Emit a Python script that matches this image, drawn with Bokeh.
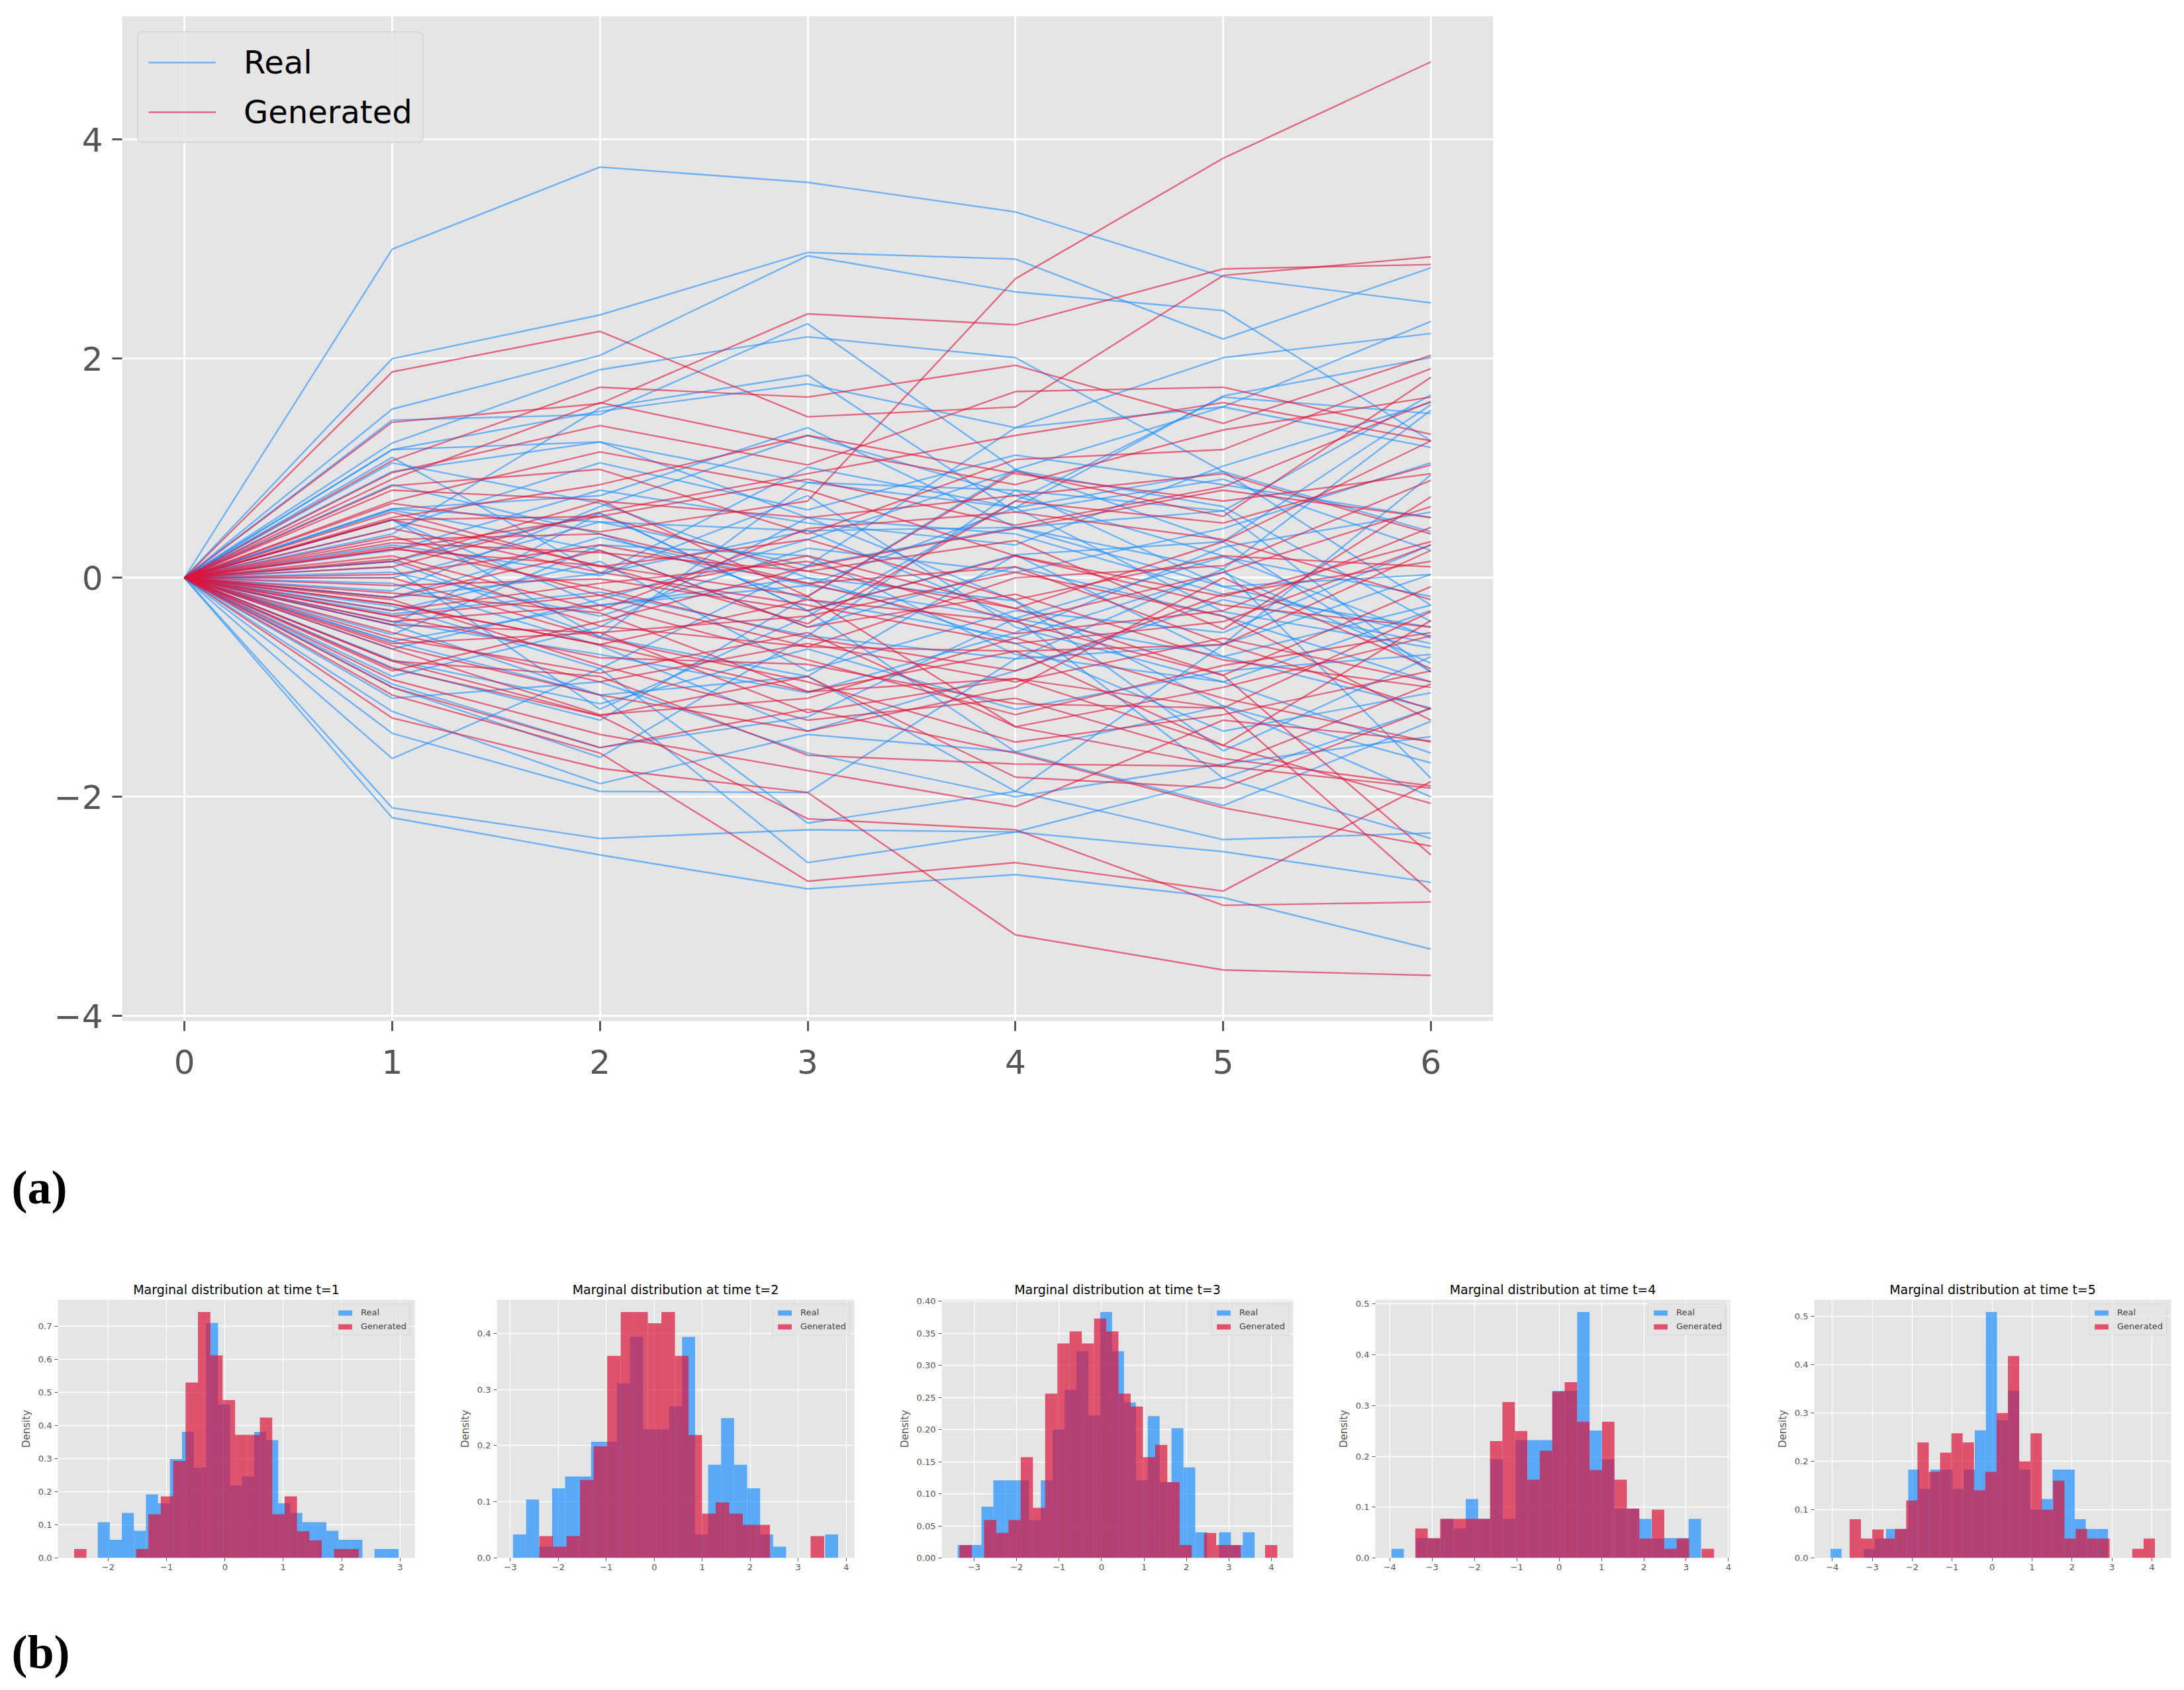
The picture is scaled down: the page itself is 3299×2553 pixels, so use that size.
import numpy as np
from bokeh.plotting import figure
from bokeh.models import (Range1d, FixedTicker, CustomJSTickFormatter, Legend,
                          LegendItem, ColumnDataSource)
from bokeh.layouts import column, row
from bokeh.embed import file_html
from bokeh.resources import INLINE
from bokeh.core.properties import value

# ---------------- data: sample paths (panel a) ----------------
time_steps = [0, 1, 2, 3, 4, 5, 6]

real_paths = [
    [0, 3.00, 3.75, 3.61, 3.34, 2.75, 2.51],
    [0, 2.00, 2.40, 2.97, 2.91, 2.18, 2.83],
    [0, 1.54, 2.03, 2.94, 2.61, 2.44, 1.25],
    [0, 1.44, 1.49, 2.32, 0.99, 1.56, 2.34],
    [0, 1.23, 1.90, 2.20, 2.01, 0.97, 0.42],
    [0, 1.17, 1.52, 1.77, 1.37, 2.01, 2.23],
    [0, 1.10, 0.04, 1.01, 0.64, 1.66, 2.01],
    [0, 0.97, 1.24, 0.55, -0.21, -1.17, -1.69],
    [0, 0.63, 0.75, 1.37, 0.46, -0.08, -0.53],
    [0, 0.53, -0.54, 0.87, 0.80, 0.61, 1.67],
    [0, 0.15, 0.59, -0.30, 0.21, 0.33, 1.58],
    [0, 0.00, 0.51, 0.43, -0.37, 0.19, -0.17],
    [0, -0.18, 0.37, -0.07, 0.64, -0.31, -0.64],
    [0, -0.26, -0.83, 0.11, 0.46, 0.08, 1.53],
    [0, -0.33, -0.13, -0.53, -0.74, -0.61, 0.94],
    [0, -0.43, -1.07, -0.90, 0.21, -0.72, -0.25],
    [0, -0.58, -0.25, 0.00, -0.21, -1.58, -0.72],
    [0, -0.82, -1.30, -0.17, 0.99, 0.33, -0.86],
    [0, -0.97, -1.55, -1.27, -0.37, -1.83, -1.19],
    [0, -1.00, -1.64, -0.53, 0.80, -0.08, 0.03],
    [0, -1.22, -1.88, -1.43, -1.59, -2.08, -1.31],
    [0, -1.42, -1.95, -1.96, -0.74, 0.08, -1.83],
    [0, -1.65, -0.83, -2.24, -1.95, -2.39, -2.33],
    [0, -2.10, -2.38, -2.30, -2.32, -2.50, -2.78],
    [0, -2.19, -2.53, -2.84, -2.71, -2.92, -3.39],
    [0, 0.63, 0.51, 0.11, 1.37, 1.56, 1.19],
    [0, -0.43, 0.59, -0.30, -1.59, -1.17, -2.00],
    [0, 0.15, -0.54, -0.90, -1.95, -0.61, 0.03],
    [0, -0.58, -1.07, -2.60, -2.32, -1.83, -2.38],
    [0, 1.17, 1.24, 0.87, 0.64, 0.97, -0.25],
    [0, -0.18, 0.04, 0.43, 0.46, 0.61, -0.86],
    [0, 0.53, -0.25, -0.07, -0.37, -0.72, -1.19],
    [0, 0.45, 1.05, 0.62, 1.12, 0.85, 0.55],
    [0, 0.30, 0.02, 0.75, -0.45, -0.95, -0.30],
    [0, 0.05, -0.35, 0.27, 0.05, 0.45, 1.05],
    [0, -0.12, 0.65, 1.30, 0.75, 0.20, -0.55],
    [0, -0.40, -0.70, -1.05, -0.50, 0.28, 0.60],
    [0, -0.65, -0.20, 0.35, 0.98, 0.65, -0.40],
    [0, -0.75, -1.15, -0.65, -1.20, -0.85, -0.70],
    [0, 0.62, 0.25, -0.45, 0.10, -0.35, -0.95],
    [0, 0.25, 0.80, 0.50, 0.30, 1.02, 1.60],
    [0, -0.30, 0.15, -0.85, -0.30, -0.50, 0.30],
    [0, -0.90, -0.45, 0.55, 0.40, -0.15, -0.45],
    [0, 1.05, 0.68, 0.00, -0.60, -1.40, -1.05],
    [0, -0.05, -0.62, -1.40, -0.85, -0.20, -0.60],
    [0, 0.40, 1.55, 1.85, 0.60, 0.90, 0.25],
    [0, -1.10, -0.95, -1.60, -2.00, -1.70, -1.45],
    [0, 0.10, -1.20, -0.35, 0.70, 1.65, 1.50],
    [0, -0.52, 0.30, 0.20, -0.70, -0.95, -1.60],
    [0, 0.85, 0.40, -0.20, -0.55, 0.05, -0.78],
]

generated_paths = [
    [0, 0.68, 0.42, 0.70, 2.73, 3.83, 4.71],
    [0, 1.88, 2.25, 1.47, 1.56, 2.76, 2.93],
    [0, 1.42, 1.59, 2.41, 2.31, 2.82, 2.86],
    [0, 1.07, 1.74, 1.65, 1.94, 1.41, 2.03],
    [0, 0.96, 1.39, 1.03, 1.70, 1.74, 1.31],
    [0, 0.84, 0.99, 0.40, 1.08, 1.17, 1.91],
    [0, 0.80, 0.71, -0.17, 0.97, 0.56, 1.83],
    [0, 0.53, 0.56, 0.90, 0.48, 0.83, 1.61],
    [0, 0.38, -0.16, 0.20, -0.28, 0.33, 1.25],
    [0, 0.32, 0.23, 0.06, 0.34, -0.47, 0.74],
    [0, 0.26, 0.11, -0.42, 0.70, 0.50, 1.03],
    [0, 0.17, -0.44, -0.63, 0.00, 0.11, 0.89],
    [0, 0.03, 0.30, -0.05, -0.51, -0.30, 0.46],
    [0, -0.07, -0.01, -0.30, 0.20, -0.17, 0.33],
    [0, -0.14, -0.32, -1.04, -0.67, -0.61, 0.25],
    [0, -0.24, -0.61, -0.20, -0.40, -0.89, -0.08],
    [0, -0.35, -0.73, -0.79, -1.15, -1.19, -0.31],
    [0, -0.43, -0.50, -1.23, -0.92, -1.53, -0.39],
    [0, -0.55, -0.87, -0.50, -1.36, -1.00, -0.53],
    [0, -0.62, -1.07, -1.40, -1.00, 0.00, -0.83],
    [0, -0.76, -0.90, -1.62, -1.70, -1.72, -0.97],
    [0, -0.83, -1.26, -0.90, -1.82, -1.92, -1.19],
    [0, -0.93, -1.43, -1.76, -2.09, -1.30, -1.49],
    [0, -1.07, -1.60, -2.77, -2.60, -2.86, -1.86],
    [0, -1.28, -1.74, -1.96, -3.26, -3.58, -3.63],
    [0, -0.76, -1.26, -2.20, -2.30, -2.99, -2.96],
    [0, 0.26, 0.56, 0.06, -0.28, -0.89, -2.53],
    [0, -0.35, -0.16, -0.63, -0.67, -1.53, -2.06],
    [0, 0.53, 0.11, -0.17, -1.36, -1.72, -1.92],
    [0, -0.24, -0.61, -1.04, -0.92, -1.19, -2.87],
    [0, 0.55, 0.85, 1.30, 0.95, 0.70, 0.95],
    [0, 0.20, -0.30, 0.45, 0.60, 0.35, -0.20],
    [0, -0.18, 0.25, -0.45, -0.15, -0.75, -1.00],
    [0, 0.45, 0.05, -0.25, -0.60, -0.40, 0.30],
    [0, -0.50, -0.95, -0.60, -0.95, -0.55, -0.95],
    [0, 0.10, 0.60, 0.95, 1.30, 1.60, 1.25],
    [0, -0.30, -0.05, 0.15, -0.40, 0.05, 0.65],
    [0, 0.70, 1.15, 0.80, 0.20, -0.25, -0.45],
    [0, -0.65, -1.25, -1.10, -0.55, -1.10, -1.50],
    [0, 0.00, -0.55, -0.95, -1.50, -1.25, -0.85],
    [0, -0.85, -0.40, 0.10, 0.45, 0.80, 0.55],
    [0, 0.35, 0.40, -0.05, 0.10, -0.60, -1.20],
    [0, -0.20, -0.80, -1.30, -1.10, -1.65, -1.90],
    [0, 0.60, 0.10, 0.35, -0.20, 0.20, 0.10],
    [0, -1.00, -1.55, -1.20, -1.60, -2.10, -2.45],
    [0, 0.90, 1.60, 1.20, 0.85, 1.35, 1.65],
    [0, -0.40, -0.25, -0.75, -1.25, -0.80, -0.50],
    [0, 0.15, 0.70, 0.55, 0.75, 0.95, 0.40],
    [0, -0.60, -0.50, -0.35, 0.05, -0.35, -1.30],
    [0, 0.28, -0.10, -0.55, -0.85, -0.15, 0.15],
]

# ---------------- data: marginal histograms (panel b) ----------------
# (first bin left edge, last bin right edge) and density per bin
real_t1_span = (-2.178, 2.974)
real_t1_density = [0.108, 0.055, 0.136, 0.082, 0.192, 0.165, 0.299, 0.381, 0.273, 0.710,
                   0.464, 0.219, 0.246, 0.381, 0.356, 0.165, 0.136, 0.108, 0.108, 0.082,
                   0.055, 0.055, 0.0, 0.027, 0.027]
gen_t1_span = (-2.583, 2.295)
gen_t1_density = [0.027, 0, 0, 0, 0, 0.027, 0.132, 0.186, 0.293, 0.530, 0.743, 0.612,
                  0.477, 0.372, 0.372, 0.424, 0.132, 0.186, 0.081, 0.053, 0, 0.027, 0.027]

real_t2_span = (-2.942, 3.831)
real_t2_density = [0.042, 0.104, 0.020, 0.124, 0.145, 0.145, 0.207, 0.207, 0.311, 0.394,
                   0.229, 0.229, 0.270, 0.394, 0.042, 0.166, 0.249, 0.166, 0.124, 0.042,
                   0.020, 0, 0, 0, 0.042]
gen_t2_span = (-2.395, 3.541)
gen_t2_density = [0.039, 0.020, 0.039, 0.139, 0.199, 0.360, 0.438, 0.438, 0.418, 0.438,
                  0.360, 0.219, 0.079, 0.099, 0.079, 0.059, 0.059, 0, 0, 0, 0.039]

real_t3_span = (-3.388, 3.607)
real_t3_density = [0.020, 0.020, 0.080, 0.121, 0.121, 0.121, 0.059, 0.121, 0.200, 0.262,
                   0.322, 0.222, 0.383, 0.322, 0.242, 0.121, 0.221, 0.118, 0.202, 0.141,
                   0.040, 0, 0.040, 0.020, 0.040]
gen_t3_span = (-3.342, 4.140)
gen_t3_density = [0.020, 0, 0.059, 0.039, 0.059, 0.157, 0.078, 0.256, 0.334, 0.353, 0.334,
                  0.373, 0.353, 0.256, 0.236, 0.157, 0.176, 0.118, 0.020, 0, 0.039, 0.020,
                  0.020, 0, 0, 0.020]

real_t4_span = (-3.959, 3.351)
real_t4_density = [0.018, 0, 0.039, 0.038, 0.077, 0.058, 0.116, 0.077, 0.194, 0.077,
                   0.232, 0.232, 0.232, 0.329, 0.329, 0.484, 0.251, 0.194, 0.097, 0.097,
                   0.077, 0.038, 0.039, 0.039, 0.077]
gen_t4_span = (-3.397, 3.659)
gen_t4_density = [0.058, 0.039, 0.077, 0.077, 0.077, 0.077, 0.230, 0.307, 0.250, 0.154,
                  0.211, 0.327, 0.346, 0.268, 0.173, 0.268, 0.154, 0.097, 0.038, 0.095,
                  0.018, 0.038, 0, 0.018]

real_t5_span = (-4.046, 2.901)
real_t5_density = [0.019, 0, 0, 0.019, 0.040, 0.060, 0.060, 0.183, 0.143, 0.183, 0.183,
                   0.143, 0.183, 0.264, 0.509, 0.285, 0.346, 0.183, 0.100, 0.122, 0.183,
                   0.183, 0.080, 0.060, 0.060]
gen_t5_span = (-3.567, 4.074)
gen_t5_density = [0.080, 0.040, 0.059, 0.040, 0.060, 0.119, 0.239, 0.178, 0.218, 0.258,
                  0.239, 0.140, 0.178, 0.300, 0.418, 0.200, 0.258, 0.100, 0.160, 0.040,
                  0.060, 0.040, 0.040, 0, 0, 0.019, 0.040]

hist_x_ticks = [[-2, -1, 0, 1, 2, 3], [-3, -2, -1, 0, 1, 2, 3, 4], [-3, -2, -1, 0, 1, 2, 3, 4],
                [-4, -3, -2, -1, 0, 1, 2, 3, 4], [-4, -3, -2, -1, 0, 1, 2, 3, 4]]
hist_y_ticks = [[0.0, 0.1, 0.2, 0.3, 0.4, 0.5, 0.6, 0.7], [0.0, 0.1, 0.2, 0.3, 0.4],
                [0.0, 0.05, 0.10, 0.15, 0.20, 0.25, 0.30, 0.35, 0.40],
                [0.0, 0.1, 0.2, 0.3, 0.4, 0.5], [0.0, 0.1, 0.2, 0.3, 0.4, 0.5]]
hist_y_decimals = [1, 1, 2, 1, 1]

# ---------------- style ----------------
BLUE = "#1E90FF"
RED = "#DC143C"
BG = "#E5E5E5"
TICK_GREY = "#555555"
FONT = "DejaVu Sans"

minus_fmt = """
var s = Math.abs(tick).toFixed(dec);
return (tick < -1e-9 ? '\u2212' : '') + s;
"""


def style_axes(p, tick_size, tick_out, tick_w, standoff):
    p.background_fill_color = BG
    p.border_fill_color = "white"
    p.outline_line_color = None
    p.grid.grid_line_color = "white"
    for ax in (p.xaxis, p.yaxis):
        ax.axis_line_color = None
        ax.major_tick_line_color = TICK_GREY
        ax.major_tick_line_width = tick_w
        ax.major_tick_out = tick_out
        ax.major_tick_in = 0
        ax.minor_tick_line_color = None
        ax.major_label_text_font_size = tick_size
        ax.major_label_text_color = TICK_GREY
        ax.major_label_text_font = FONT
        ax.major_label_standoff = standoff


# ---------------- panel (a): paths ----------------
all_vals = [v for path in real_paths + generated_paths for v in path]
y_lo, y_hi = min(all_vals), max(all_vals)
y_pad = 0.05 * (y_hi - y_lo)
x_pad = 0.05 * (max(time_steps) - min(time_steps))

main = figure(width=2267, height=1700,
              x_range=Range1d(min(time_steps) - x_pad, max(time_steps) + x_pad),
              y_range=Range1d(y_lo - y_pad, y_hi + y_pad),
              output_backend="svg", toolbar_location=None,
              min_border_left=184, min_border_right=12, min_border_top=24,
              min_border_bottom=158)
style_axes(main, "50px", 15, 3, 14)
main.xaxis.major_label_standoff = 28
main.grid.grid_line_width = 3
main.xaxis.ticker = FixedTicker(ticks=time_steps)
main.yaxis.ticker = FixedTicker(ticks=[-4, -2, 0, 2, 4])
main.xaxis.formatter = CustomJSTickFormatter(code=minus_fmt, args=dict(dec=0))
main.yaxis.formatter = CustomJSTickFormatter(code=minus_fmt, args=dict(dec=0))

r_real = main.multi_line(xs=[time_steps] * len(real_paths), ys=real_paths,
                         line_color=BLUE, line_alpha=0.6, line_width=2.4)
r_gen = main.multi_line(xs=[time_steps] * len(generated_paths), ys=generated_paths,
                        line_color=RED, line_alpha=0.6, line_width=2.4)

leg = Legend(items=[LegendItem(label="Real", renderers=[r_real]),
                    LegendItem(label="Generated", renderers=[r_gen])],
             location="top_left")
leg.margin = 23
leg.padding = 15
leg.spacing = 15
leg.glyph_width = 102
leg.glyph_height = 60
leg.label_height = 60
leg.label_standoff = 42
leg.label_text_font_size = "48px"
leg.label_text_font = FONT
leg.label_text_color = "black"
leg.border_line_color = "#CCCCCC"
leg.border_line_width = 2
leg.background_fill_color = BG
leg.background_fill_alpha = 0.8
if "border_radius" in Legend.properties():
    leg.border_radius = 8
main.add_layout(leg)


# ---------------- panel labels ----------------
def label_fig(txt, w, h, y_from_top):
    p = figure(width=w, height=h, x_range=Range1d(0, w), y_range=Range1d(0, h),
               output_backend="svg", toolbar_location=None, min_border=0,
               min_border_left=0, min_border_right=0, min_border_top=0,
               min_border_bottom=0, x_axis_type=None, y_axis_type=None)
    p.outline_line_color = None
    p.background_fill_color = "white"
    p.border_fill_color = "white"
    p.text(x=[17], y=[h - y_from_top], text=[txt], text_font=value("Liberation Serif"),
           text_font_style="bold", text_font_size="72px", text_baseline="middle",
           text_align="left", text_color="black")
    return p


label_a = label_fig("(a)", 300, 200, 93)
label_b = label_fig("(b)", 300, 120, 75)


# ---------------- panel (b): histograms ----------------
def hist_fig(t, real_span, real_d, gen_span, gen_d, xticks, yticks, ydec,
             width, left, right):
    lo = min(real_span[0], gen_span[0])
    hi = max(real_span[1], gen_span[1])
    pad = 0.05 * (hi - lo)
    ytop = 1.05 * max(max(real_d), max(gen_d))
    p = figure(width=width, height=520, x_range=Range1d(lo - pad, hi + pad),
               y_range=Range1d(0, ytop), output_backend="svg", toolbar_location=None,
               min_border_left=left, min_border_right=right, min_border_top=63,
               min_border_bottom=67)
    style_axes(p, "13px", 5, 1, 4)
    p.grid.grid_line_width = 1.3
    p.xaxis.ticker = FixedTicker(ticks=xticks)
    p.yaxis.ticker = FixedTicker(ticks=yticks)
    p.xaxis.formatter = CustomJSTickFormatter(code=minus_fmt, args=dict(dec=0))
    p.yaxis.formatter = CustomJSTickFormatter(code=minus_fmt, args=dict(dec=ydec))
    p.yaxis.axis_label = "Density"
    p.yaxis.axis_label_text_font_size = "15px"
    p.yaxis.axis_label_text_font_style = "normal"
    p.yaxis.axis_label_text_color = TICK_GREY
    p.yaxis.axis_label_text_font = FONT
    p.yaxis.axis_label_standoff = 6
    p.title.text = f"Marginal distribution at time t={t}"
    p.title.align = "center"
    p.title.text_font_size = "19px"
    p.title.text_font_style = "normal"
    p.title.text_font = FONT
    p.title.text_color = "black"

    rends = []
    for span, dens, color in ((real_span, real_d, BLUE), (gen_span, gen_d, RED)):
        edges = np.linspace(span[0], span[1], len(dens) + 1)
        src = ColumnDataSource(dict(left=edges[:-1], right=edges[1:], top=dens,
                                    bottom=[0.0] * len(dens)))
        rends.append(p.quad(left="left", right="right", top="top", bottom="bottom",
                            source=src, fill_color=color, fill_alpha=0.7,
                            line_color=None))
    lg = Legend(items=[LegendItem(label="Real", renderers=[rends[0]]),
                       LegendItem(label="Generated", renderers=[rends[1]])],
                location="top_right")
    lg.margin = 6
    lg.padding = 5
    lg.spacing = 6
    lg.glyph_width = 26
    lg.glyph_height = 10
    lg.label_height = 14
    lg.label_standoff = 11
    lg.label_text_font_size = "13px"
    lg.label_text_font = FONT
    lg.border_line_color = "#CCCCCC"
    lg.background_fill_color = BG
    lg.background_fill_alpha = 0.8
    p.add_layout(lg)
    return p


hist_specs = [
    (1, real_t1_span, real_t1_density, gen_t1_span, gen_t1_density, 680, 87, 54),
    (2, real_t2_span, real_t2_density, gen_t2_span, gen_t2_density, 665, 70, 55),
    (3, real_t3_span, real_t3_density, gen_t3_span, gen_t3_density, 660, 77, 52),
    (4, real_t4_span, real_t4_density, gen_t4_span, gen_t4_density, 663, 72, 55),
    (5, real_t5_span, real_t5_density, gen_t5_span, gen_t5_density, 617, 72, 6),
]
hists = []
for i, (t, rs, rd, gs, gd, w, l, r) in enumerate(hist_specs):
    hists.append(hist_fig(t, rs, rd, gs, gd, hist_x_ticks[i], hist_y_ticks[i],
                          hist_y_decimals[i], w, l, r))

layout = column(row(main, spacing=0), row(label_a, spacing=0), row(*hists, spacing=0),
                row(label_b, spacing=0), spacing=0)

open("out.html", "w").write(file_html(layout, INLINE))
